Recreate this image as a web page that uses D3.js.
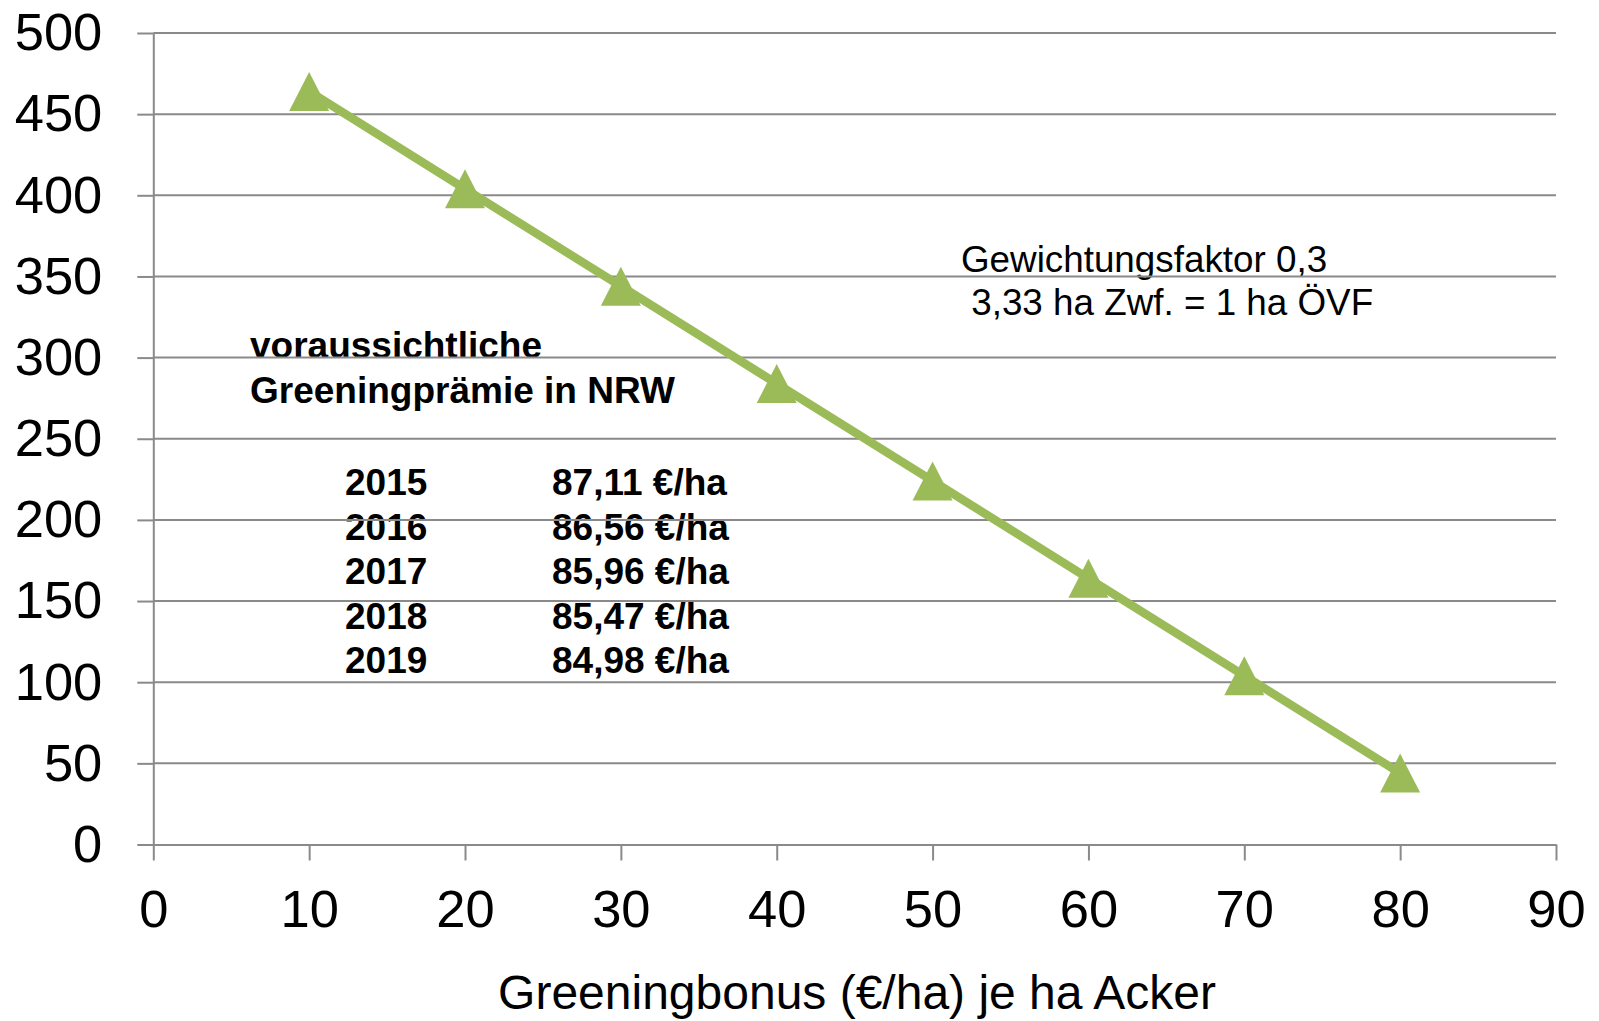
<!DOCTYPE html>
<html>
<head>
<meta charset="utf-8">
<script src="https://cdn.jsdelivr.net/npm/d3@7"></script>
<style>
  body { margin: 0; background: #fff; }
  svg { display: block; font-family: "Liberation Sans", Arial, sans-serif; }
</style>
</head>
<body>
<svg id="chart" width="1599" height="1021"></svg>
<script>
// Greeningbonus (€/ha) je ha Acker -> Wert
var bonus = [10, 20, 30, 40, 50, 60, 70, 80];
var values = [464, 404, 344, 284, 224, 164, 104, 44];

var xTicks = [0, 10, 20, 30, 40, 50, 60, 70, 80, 90];
var yTicks = [0, 50, 100, 150, 200, 250, 300, 350, 400, 450, 500];

var years = ["2015", "2016", "2017", "2018", "2019"];
var praemie = ["87,11 €/ha", "86,56 €/ha", "85,96 €/ha", "85,47 €/ha", "84,98 €/ha"];

var xTitle = "Greeningbonus (€/ha) je ha Acker";
var heading = ["voraussichtliche", "Greeningprämie in NRW"];
var note = ["Gewichtungsfaktor 0,3", " 3,33 ha Zwf. = 1 ha ÖVF"];

var svg = d3.select("#chart"),
    margin = { top: 33, right: 43, bottom: 176.5, left: 153.3 },
    width = 1599 - margin.left - margin.right,
    height = 1021 - margin.top - margin.bottom;

var gridColor = "#8a8a8a";
var green = "#9bbb59";

var x = d3.scaleLinear().domain([0, 90]).range([0, width]);
var y = d3.scaleLinear().domain([0, 500]).range([height, 0]);

var g = svg.append("g")
    .attr("transform", "translate(" + margin.left + "," + margin.top + ")");

// Texte zuerst (Gitterlinien liegen darüber wie im Original)
var txt = g.append("g").attr("fill", "#000");

txt.selectAll(".head")
    .data(heading)
  .enter().append("text")
    .attr("x", 250 - margin.left)
    .attr("y", function(d, i) { return 358 - margin.top + i * 45; })
    .attr("font-size", 37)
    .attr("font-weight", "bold")
    .text(function(d) { return d; });

txt.selectAll(".year")
    .data(years)
  .enter().append("text")
    .attr("x", 345 - margin.left)
    .attr("y", function(d, i) { return 495 - margin.top + i * 44.6; })
    .attr("font-size", 37)
    .attr("font-weight", "bold")
    .text(function(d) { return d; });

txt.selectAll(".val")
    .data(praemie)
  .enter().append("text")
    .attr("x", 552 - margin.left)
    .attr("y", function(d, i) { return 495 - margin.top + i * 44.6; })
    .attr("font-size", 37)
    .attr("font-weight", "bold")
    .text(function(d) { return d; });

txt.selectAll(".note")
    .data(note)
  .enter().append("text")
    .attr("x", 961 - margin.left)
    .attr("y", function(d, i) { return 271.5 - margin.top + i * 43.5; })
    .attr("font-size", 36.8)
    .attr("xml:space", "preserve")
    .style("white-space", "pre")
    .text(function(d) { return d; });

// Gitterlinien
g.append("g")
    .selectAll("line")
    .data(yTicks.filter(function(d) { return d > 0; }))
  .enter().append("line")
    .attr("x1", 0)
    .attr("x2", width)
    .attr("y1", function(d) { return y(d); })
    .attr("y2", function(d) { return y(d); })
    .attr("stroke", gridColor)
    .attr("stroke-width", 2);

// y-Achse
var yAxis = g.append("g")
    .call(d3.axisLeft(y).tickValues(yTicks).tickSize(16).tickSizeOuter(0).tickPadding(35));

// x-Achse
var xAxis = g.append("g")
    .attr("transform", "translate(0," + height + ")")
    .call(d3.axisBottom(x).tickValues(xTicks).tickSize(16).tickSizeOuter(0).tickPadding(29.6));

[yAxis, xAxis].forEach(function(a) {
    a.select(".domain").attr("stroke", gridColor).attr("stroke-width", 2);
    a.selectAll(".tick line").attr("stroke", gridColor).attr("stroke-width", 2);
    a.selectAll(".tick text")
        .attr("fill", "#000")
        .attr("font-size", 52.5)
        .attr("font-family", "'Liberation Sans', Arial, sans-serif");
});

// Achsentitel
g.append("text")
    .attr("x", 857 - margin.left)
    .attr("y", 1009 - margin.top)
    .attr("text-anchor", "middle")
    .attr("font-size", 48)
    .attr("fill", "#000")
    .text(xTitle);

// Linie
var pts = bonus.map(function(d, i) { return [d, values[i]]; });

g.append("path")
    .datum(pts)
    .attr("fill", "none")
    .attr("stroke", green)
    .attr("stroke-width", 8.5)
    .attr("d", d3.line()
        .x(function(d) { return x(d[0]); })
        .y(function(d) { return y(d[1]); }));

// Dreieck-Marker
g.selectAll(".marker")
    .data(pts)
  .enter().append("path")
    .attr("class", "marker")
    .attr("fill", green)
    .attr("transform", function(d) { return "translate(" + x(d[0]) + "," + y(d[1]) + ")"; })
    .attr("d", "M0,-19.5L20,19.5L-20,19.5Z");
</script>
</body>
</html>
